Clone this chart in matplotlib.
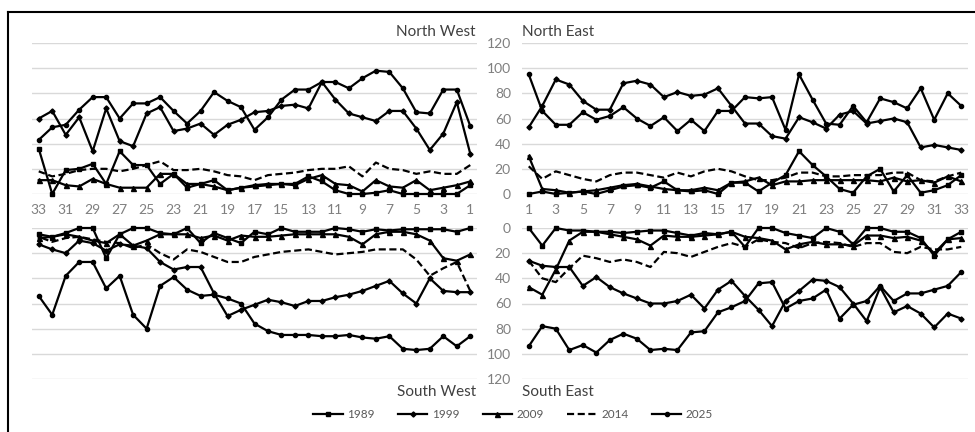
import matplotlib
matplotlib.use("Agg")
import matplotlib.pyplot as plt
from matplotlib.lines import Line2D
import numpy as np

plt.rcParams["font.family"] = ["Lato", "DejaVu Sans"]

DAYS = np.arange(1, 34)
YEARS = ["1989", "1999", "2009", "2014", "2025"]
TICKS = list(range(0, 121, 20))

# values per day (1..33), one list per quadrant and year
NW_1989 = [7, 0, 0, 0, 0, 0, 3, 1, 0, 0, 3, 10, 14, 8, 8, 7, 6, 5, 3, 11, 8, 5, 16, 8, 23, 23, 34, 8, 24, 20, 19, 0, 36]
NW_1999 = [32, 73, 48, 35, 52, 66, 66, 58, 61, 64, 75, 89, 68, 71, 70, 66, 65, 59, 55, 47, 56, 52, 50, 69, 64, 38, 42, 68, 34, 61, 47, 66, 60]
NW_2009 = [10, 7, 5, 3, 11, 5, 6, 11, 2, 7, 8, 15, 12, 7, 8, 8, 7, 5, 3, 6, 8, 8, 16, 16, 5, 5, 5, 8, 12, 6, 7, 11, 11]
NW_2014 = [23, 16, 16, 18, 16, 19, 20, 25, 14, 22, 20, 20, 19, 17, 16, 15, 11, 14, 15, 18, 20, 19, 19, 26, 23, 20, 18, 20, 20, 19, 16, 14, 18]
NW_2025 = [54, 83, 83, 64, 65, 84, 97, 98, 92, 84, 89, 89, 83, 83, 75, 61, 51, 69, 74, 81, 66, 56, 66, 77, 72, 72, 60, 77, 77, 67, 55, 53, 43]

NE_1989 = [0, 2, 0, 1, 2, 0, 3, 6, 7, 5, 10, 3, 2, 3, 0, 9, 9, 2, 9, 15, 34, 23, 14, 4, 1, 14, 20, 2, 15, 1, 3, 7, 15]
NE_1999 = [53, 70, 91, 87, 74, 67, 67, 88, 90, 87, 77, 81, 78, 79, 84, 70, 56, 56, 46, 44, 61, 57, 52, 63, 66, 56, 58, 60, 57, 37, 39, 37, 35]
NE_2009 = [30, 4, 3, 1, 2, 3, 5, 7, 8, 6, 4, 3, 3, 5, 3, 9, 10, 13, 7, 10, 10, 11, 11, 11, 11, 11, 10, 13, 10, 11, 9, 14, 10]
NE_2014 = [22, 12, 18, 15, 12, 10, 15, 17, 17, 15, 13, 17, 14, 18, 20, 18, 14, 11, 11, 13, 17, 17, 14, 14, 15, 15, 15, 17, 17, 11, 10, 14, 17]
NE_2025 = [95, 66, 55, 55, 65, 59, 62, 69, 60, 54, 61, 50, 59, 50, 66, 66, 77, 76, 77, 51, 95, 75, 56, 55, 70, 57, 76, 73, 68, 84, 59, 80, 70]

SW_1989 = [0, 3, 1, 1, 1, 1, 2, 1, 3, 1, 0, 3, 3, 3, 0, 5, 3, 12, 8, 4, 12, 0, 5, 4, 0, 0, 5, 24, 0, 0, 4, 7, 5]
SW_1999 = [51, 51, 50, 40, 60, 52, 42, 46, 50, 53, 55, 58, 58, 62, 59, 57, 61, 65, 70, 52, 31, 31, 33, 27, 16, 14, 13, 18, 12, 10, 20, 17, 13]
SW_2009 = [21, 26, 24, 10, 5, 3, 3, 5, 13, 7, 5, 5, 5, 5, 6, 7, 7, 6, 10, 6, 8, 5, 5, 5, 10, 14, 5, 12, 10, 7, 5, 7, 8]
SW_2014 = [50, 27, 32, 38, 25, 17, 17, 17, 19, 20, 21, 19, 17, 18, 19, 21, 23, 27, 27, 23, 19, 17, 25, 20, 13, 16, 12, 11, 9, 7, 8, 11, 7]
SW_2025 = [86, 94, 86, 96, 97, 96, 86, 88, 87, 85, 86, 86, 85, 85, 85, 82, 76, 60, 56, 53, 54, 49, 39, 46, 80, 69, 38, 48, 27, 27, 38, 69, 54]

SE_1989 = [0, 14, 0, 2, 2, 3, 3, 4, 3, 2, 2, 4, 6, 4, 5, 3, 15, 0, 0, 4, 6, 8, 0, 3, 13, 0, 0, 3, 3, 8, 22, 9, 3]
SE_1999 = [26, 30, 31, 31, 46, 39, 47, 52, 56, 60, 60, 58, 53, 64, 49, 42, 54, 65, 78, 58, 50, 41, 42, 47, 60, 74, 47, 67, 62, 68, 79, 68, 72]
SE_2009 = [47, 53, 33, 10, 3, 3, 5, 7, 9, 14, 6, 7, 7, 6, 5, 3, 7, 8, 10, 17, 13, 11, 13, 13, 14, 6, 6, 8, 7, 10, 20, 9, 8]
SE_2014 = [26, 40, 43, 32, 22, 24, 27, 25, 27, 31, 19, 20, 23, 19, 15, 12, 15, 9, 11, 12, 16, 12, 11, 12, 15, 12, 12, 19, 20, 15, 17, 17, 15]
SE_2025 = [94, 78, 80, 97, 93, 99, 89, 84, 88, 97, 96, 97, 83, 82, 67, 63, 58, 44, 43, 64, 58, 56, 49, 72, 61, 58, 46, 58, 52, 52, 49, 46, 35]

STYLE = {
    "1989": dict(marker="s", ms=3.2, ls="-"),
    "1999": dict(marker="D", ms=2.6, ls="-"),
    "2009": dict(marker="^", ms=3.6, ls="-"),
    "2014": dict(marker="", ls=(0, (3.2, 1.6))),
    "2025": dict(marker="o", ms=3.0, ls="-"),
}

W, H = 975, 432
GRID = "#d9d9d9"
TICK = "#7f7f7f"
TITLE = "#404040"


def _rect(x0, x1, ytop, ybot):
    return [x0 / W, 1 - ybot / H, (x1 - x0) / W, (ybot - ytop) / H]


def _panel(fig, rect, series, north, west):
    ax = fig.add_axes(rect)
    for year, vals in zip(YEARS, series):
        ax.plot(DAYS, vals, color="black", lw=1.6, clip_on=False, **STYLE[year])
    ax.set_xlim((33.5, 0.5) if west else (0.5, 33.5))
    ax.set_ylim((0, 120) if north else (120, 0))
    ax.set_yticks(TICKS)
    ax.set_xticks(range(1, 34, 2))
    ax.grid(axis="y", color=GRID, lw=1.0)
    ax.grid(axis="x", visible=False)
    ax.set_axisbelow(True)
    for s in ax.spines.values():
        s.set_visible(False)
    ax.tick_params(length=0, colors=TICK, labelsize=10)
    ax.tick_params(axis="x", pad=7)
    ax.tick_params(axis="y", pad=8)
    if not north:
        ax.set_xticklabels([])
    if west:
        ax.set_yticklabels([])
    return ax


def main():
    fig = plt.figure(figsize=(W / 100, H / 100), dpi=100)

    _panel(fig, _rect(32, 477, 43, 194), [NW_1989, NW_1999, NW_2009, NW_2014, NW_2025], True, True)
    _panel(fig, _rect(522, 968, 43, 194), [NE_1989, NE_1999, NE_2009, NE_2014, NE_2025], True, False)
    _panel(fig, _rect(32, 477, 228, 379), [SW_1989, SW_1999, SW_2009, SW_2014, SW_2025], False, True)
    _panel(fig, _rect(522, 968, 228, 379), [SE_1989, SE_1999, SE_2009, SE_2014, SE_2025], False, False)

    kw = dict(fontsize=11, color=TITLE, va="center")
    fig.text(476 / W, 1 - 32 / H, "North West", ha="right", **kw)
    fig.text(522 / W, 1 - 32 / H, "North East", ha="left", **kw)
    fig.text(476 / W, 1 - 392 / H, "South West", ha="right", **kw)
    fig.text(522 / W, 1 - 392 / H, "South East", ha="left", **kw)

    handles = [Line2D([0], [0], color="black", lw=1.6, **STYLE[y]) for y in YEARS]
    fig.legend(handles, YEARS, loc="center", bbox_to_anchor=(513 / W, 1 - 415 / H),
               ncol=5, frameon=False, fontsize=8.5, labelcolor="#595959",
               handlelength=2.5, handletextpad=0.35, columnspacing=2.0)

    # outer frame, open at the right and bottom
    fig.add_artist(Line2D([8 / W, 8 / W], [0, 1 - 12 / H], color="black", lw=1.5))
    fig.add_artist(Line2D([8 / W, 1], [1 - 12 / H, 1 - 12 / H], color="black", lw=1.5))

    fig.savefig("out.png", dpi=100)


if __name__ == "__main__":
    main()
